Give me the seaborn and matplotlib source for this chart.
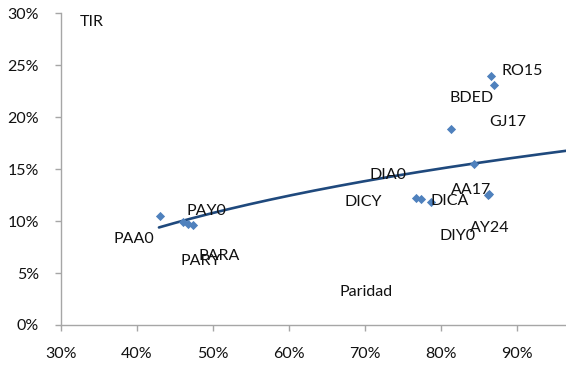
import numpy as np
import pandas as pd
import matplotlib
matplotlib.use("Agg")
import matplotlib.pyplot as plt
import seaborn as sns
from matplotlib.ticker import PercentFormatter

# ---- data ----
bonos = ["PAA0", "PAY0", "PARY", "PARA", "RO15", "BDED", "GJ17",
         "DIA0", "DICY", "DICA", "DIY0", "AA17", "AY24"]
paridad = [0.431, 0.460, 0.467, 0.474, 0.866, 0.870, 0.814,
           0.844, 0.767, 0.774, 0.787, 0.864, 0.862]
tir = [0.105, 0.0993, 0.0971, 0.0958, 0.240, 0.231, 0.189,
       0.155, 0.1224, 0.1209, 0.118, 0.1257, 0.1255]
x_ticks = [0.3, 0.4, 0.5, 0.6, 0.7, 0.8, 0.9]
y_ticks = [0.0, 0.05, 0.10, 0.15, 0.20, 0.25, 0.30]
# logarithmic trend line shown in the chart: tir = a + b*ln(paridad)
trend_a = 0.1709
trend_b = 0.091

# label offsets in pixels (style)
offsets = {
    "PAA0": (-47, -23), "PAY0": (4, 11), "PARY": (-7, -37), "PARA": (5, -31),
    "RO15": (11, 5), "BDED": (-44, -13), "GJ17": (38, 7), "DIA0": (-105, -11),
    "DICY": (-71, -4), "DICA": (10, -2), "DIY0": (9, -34), "AA17": (-38, 4),
    "AY24": (-18, -33),
}

df = pd.DataFrame({"bono": bonos, "paridad": paridad, "tir": tir})

sns.set_style("white")
plt.rcParams["font.family"] = ["Lato", "DejaVu Sans"]

fig = plt.figure(figsize=(5.66, 3.66), dpi=100)
ax = fig.add_axes([61 / 566, 1 - 325 / 366, 505 / 566, 311.7 / 366])

xmin, xmax = 0.30, 0.965
xt = np.linspace(df["paridad"].min() - 0.002, xmax, 200)
trend = pd.DataFrame({"x": xt, "y": trend_a + trend_b * np.log(xt)})
sns.lineplot(data=trend, x="x", y="y", ax=ax, color="#1F497D", linewidth=1.9,
             zorder=2)

sns.scatterplot(data=df, x="paridad", y="tir", ax=ax, marker="D", s=22,
                color="#4F81BD", edgecolor="#4F81BD", linewidth=0, zorder=3)

for _, r in df.iterrows():
    dx, dy = offsets[r["bono"]]
    ax.annotate(r["bono"], (r["paridad"], r["tir"]), xytext=(dx, dy),
                textcoords="offset pixels", ha="left", va="center",
                fontsize=11.5, color="#111111", zorder=4)

ax.set_xlim(xmin, xmax)
ax.set_ylim(0, 0.30)
ax.set_xticks(x_ticks)
ax.set_yticks(y_ticks)
ax.xaxis.set_major_formatter(PercentFormatter(1.0, decimals=0))
ax.yaxis.set_major_formatter(PercentFormatter(1.0, decimals=0))
ax.set_xlabel("")
ax.set_ylabel("")

for s in ["top", "right"]:
    ax.spines[s].set_visible(False)
for s in ["left", "bottom"]:
    ax.spines[s].set_color("#A6A6A6")
    ax.spines[s].set_linewidth(1.0)

ax.tick_params(axis="both", which="major", length=4, width=1.0,
               color="#A6A6A6", labelsize=11.5, labelcolor="#111111",
               direction="out")
ax.tick_params(axis="y", pad=12, left=True)
ax.tick_params(axis="x", pad=12, bottom=True)

ax.text(0.038, 0.972, "TIR", transform=ax.transAxes, ha="left", va="center",
        fontsize=11.5, color="#111111")
ax.text(0.552, 0.106, "Paridad", transform=ax.transAxes, ha="left",
        va="center", fontsize=11.5, color="#111111")

fig.savefig("out.png", dpi=100)
